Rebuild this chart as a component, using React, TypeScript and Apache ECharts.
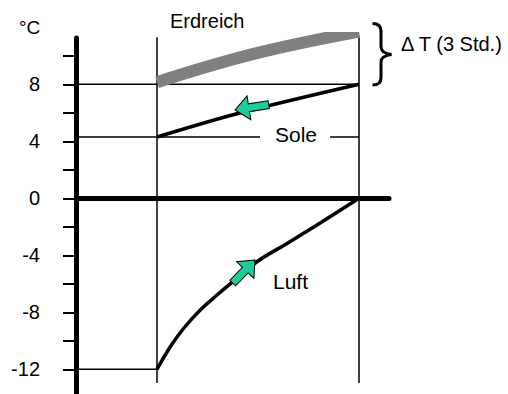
import React, { useEffect, useRef } from "react";
import * as echarts from "echarts";

// Time axis (hours) and temperatures (°C)
const erdreichHours = [0, 1.45, 3];
const erdreichTemps = [8.15, 10.15, 11.7];

const soleHours = [0, 1.2, 3];
const soleTemps = [4.3, 5.95, 8.0];

const luftHours = [0, 0.2, 0.4, 0.65, 0.9, 1.1, 1.5, 1.9, 2.4, 3];
const luftTemps = [-12, -10.4, -9.1, -7.8, -6.75, -5.95, -4.4, -3.25, -1.8, 0];

const yTickValues = [-12, -10, -8, -6, -4, -2, 0, 2, 4, 6, 8, 10];
const yLabelValues = [-12, -8, -4, 0, 4, 8];

// flow arrows: position (h, °C), direction (deg), length
const arrowHours = [1.16, 1.455];
const arrowTemps = [6.2, -4.33];
const arrowAngles = [189, 46];
const arrowLengths = [34, 32];

const X_MIN = -1.203;
const X_MAX = 3.4455;
const Y_MIN = -13.73;
const Y_MAX = 11.25;

const FONT = "'Liberation Sans', Arial, Helvetica, sans-serif";

const BRACE_D =
  "M372.5 23.5 C378 23.5 381 26 381 31 L381 47 C381 51 384 53.5 391.5 54.5 C384 55.5 381 58 381 62 L381 78 C381 83 378 85 372.5 85";

let registered = false;

export default function App() {
  const ref = useRef<HTMLDivElement>(null);

  useEffect(() => {
    if (!ref.current) return;
    if (!registered) {
      echarts.graphic.registerShape("brace", echarts.graphic.extendPath(BRACE_D, {}));
      registered = true;
    }
    const chart = echarts.init(ref.current, undefined, { renderer: "svg" });

    const thin = { color: "#000", width: 1.5 };
    const seg = (pts: number[][], name: string) => ({
      type: "line",
      name,
      data: pts,
      symbol: "none",
      lineStyle: thin,
      silent: true,
      z: 1,
    });

    chart.setOption({
      animation: false,
      backgroundColor: "#fff",
      grid: { left: 76, top: 38, width: 313, bottom: 0, containLabel: false },
      xAxis: {
        type: "value",
        min: X_MIN,
        max: X_MAX,
        axisLine: { show: true, onZero: true, lineStyle: { color: "#000", width: 5 } },
        axisTick: { show: false },
        axisLabel: { show: false },
        splitLine: { show: false },
      },
      yAxis: {
        type: "value",
        min: Y_MIN,
        max: Y_MAX,
        axisLine: { show: true, onZero: false, lineStyle: { color: "#000", width: 5 } },
        axisTick: {
          show: true,
          length: 13,
          customValues: yTickValues,
          lineStyle: { color: "#000", width: 2 },
        },
        axisLabel: {
          show: true,
          customValues: yLabelValues,
          margin: 36,
          color: "#000",
          fontSize: 20,
          fontFamily: FONT,
        },
        splitLine: { show: false },
      },
      series: [
        {
          type: "line",
          name: "Erdreich",
          data: erdreichHours.map((h, i) => [h, erdreichTemps[i]]),
          smooth: 0.4,
          symbol: "none",
          lineStyle: { color: "#808080", width: 12, cap: "butt" },
          z: 2,
        },
        seg([[0, 11.5], [0, -12.95]], "v0"),
        seg([[3, 11.5], [3, -12.95]], "v3"),
        seg([[X_MIN, 8], [3, 8]], "h8"),
        seg([[X_MIN, 4.3], [1.53, 4.3]], "hSole1"),
        seg([[2.57, 4.3], [3, 4.3]], "hSole2"),
        seg([[X_MIN, -12], [0, -12]], "h-12"),
        {
          type: "line",
          name: "Sole",
          data: soleHours.map((h, i) => [h, soleTemps[i]]),
          smooth: 0.3,
          symbol: "none",
          lineStyle: { color: "#000", width: 3.5 },
          z: 3,
        },
        {
          type: "line",
          name: "Luft",
          data: luftHours.map((h, i) => [h, luftTemps[i]]),
          smooth: 0.4,
          symbol: "none",
          lineStyle: { color: "#000", width: 3.5 },
          z: 3,
        },
        {
          type: "custom",
          name: "arrows",
          clip: false,
          z: 5,
          data: arrowHours.map((h, i) => [h, arrowTemps[i], arrowAngles[i], arrowLengths[i]]),
          renderItem: (params: any, api: any) => {
            const p = api.coord([api.value(0), api.value(1)]);
            const ang = (api.value(2) * Math.PI) / 180;
            const len = api.value(3);
            return {
              type: "polygon",
              x: p[0],
              y: p[1],
              rotation: ang,
              shape: {
                points: [
                  [0, 0],
                  [-14, -12],
                  [-14, -4],
                  [-len, -4],
                  [-len, 4],
                  [-14, 4],
                  [-14, 12],
                ],
              },
              style: { fill: "#1ccc99", stroke: "#000", lineWidth: 1 },
            };
          },
        },
      ],
      graphic: [
        {
          type: "text",
          x: 19,
          y: 27,
          style: { text: "°C", fontSize: 19, fontFamily: FONT, fill: "#000", verticalAlign: "middle" },
        },
        {
          type: "text",
          x: 170,
          y: 21,
          style: { text: "Erdreich", fontSize: 20, fontFamily: FONT, fill: "#000", verticalAlign: "middle" },
        },
        {
          type: "text",
          x: 401,
          y: 44,
          style: { text: "Δ T (3 Std.)", fontSize: 20, fontFamily: FONT, fill: "#000", verticalAlign: "middle" },
        },
        {
          type: "text",
          x: 275,
          y: 134.5,
          style: { text: "Sole", fontSize: 21, fontFamily: FONT, fill: "#000", verticalAlign: "middle" },
        },
        {
          type: "text",
          x: 273,
          y: 281,
          style: { text: "Luft", fontSize: 21, fontFamily: FONT, fill: "#000", verticalAlign: "middle" },
        },
        {
          type: "brace",
          x: 0,
          y: 0,
          style: { fill: null, stroke: "#000", lineWidth: 3 },
        },
      ],
    });

    return () => chart.dispose();
  }, []);

  return (
    <div
      ref={ref}
      style={{ position: "fixed", left: 0, top: 0, width: 508, height: 394, background: "#fff" }}
    />
  );
}
